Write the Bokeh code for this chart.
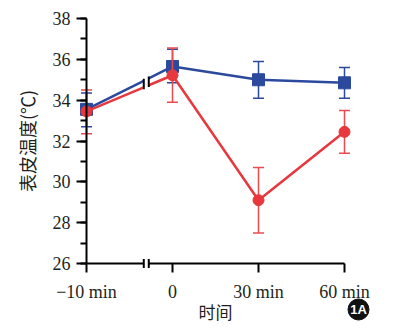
import numpy as np
from bokeh.plotting import figure
from bokeh.models import (Range1d, LinearAxis, FixedTicker, SingleIntervalTicker)
from bokeh.core.properties import value
from bokeh.embed import file_html
from bokeh.resources import INLINE

# ---------------- data ----------------
categories = ["\u221210 min", "0", "30 min", "60 min"]
blue_mean = [33.55, 35.65, 35.0, 34.85]
blue_upper = [34.35, 36.5, 35.9, 35.6]
blue_lower = [32.7, 34.85, 34.1, 34.1]
red_mean = [33.45, 35.22, 29.1, 32.45]
red_upper = [34.5, 36.55, 30.7, 33.5]
red_lower = [32.35, 33.9, 27.5, 31.4]
y_min, y_max = 26, 38
x_label = "时间"
y_label = "表皮温度(℃)"
badge = "1A"

# ---------------- layout constants ----------------
W, H = 394, 331
x0_px, x3_px = 86, 344
ppx = (x3_px - x0_px) / 3.0
ylo_px, yhi_px = 263, 18
ppy = (ylo_px - yhi_px) / float(y_max - y_min)

BLUE = "#2b4a9e"
RED = "#e8383d"
RED_ERR = "#eb4a4f"
SERIF = "Liberation Serif"
CJK = "Noto Sans CJK SC"
TXT = "#231f20"

xs = np.arange(len(categories), dtype=float)
xb1, xb2 = 0.666, 0.724  # axis break positions (between first and second category)

x_start = -x0_px / ppx
x_end = (W - x0_px) / ppx
y_end = y_max + yhi_px / ppy
y_start = y_min - (H - ylo_px) / ppy

p = figure(width=W, height=H, x_range=Range1d(x_start, x_end),
           y_range=Range1d(y_start, y_end), output_backend="svg",
           toolbar_location=None, x_axis_location=None, y_axis_location=None,
           min_border=0)
p.outline_line_color = None
p.grid.visible = False
p.background_fill_color = "white"

# ---------------- axes ----------------
yaxis = LinearAxis(fixed_location=0, bounds=(y_min, y_max),
                   ticker=SingleIntervalTicker(interval=2, num_minor_ticks=2),
                   axis_label=y_label)
yaxis.axis_line_width = 2
yaxis.major_tick_line_width = 2
yaxis.minor_tick_line_width = 2
yaxis.major_tick_out = 10
yaxis.major_tick_in = 0
yaxis.minor_tick_out = 6
yaxis.minor_tick_in = 0
yaxis.major_label_text_font = SERIF
yaxis.major_label_text_font_size = "18px"
yaxis.major_label_text_color = TXT
yaxis.major_label_standoff = 6
yaxis.axis_label_text_font = CJK
yaxis.axis_label_text_font_size = "18px"
yaxis.axis_label_text_font_style = "normal"
yaxis.axis_label_text_color = TXT
yaxis.axis_label_standoff = 10
p.add_layout(yaxis, "left")

overrides = {i: c for i, c in enumerate(categories)}

def make_xaxis(bounds, ticks):
    ax = LinearAxis(fixed_location=y_min, bounds=bounds,
                    ticker=FixedTicker(ticks=ticks, minor_ticks=[]),
                    major_label_overrides={t: overrides[t] for t in ticks})
    ax.axis_line_width = 2
    ax.major_tick_line_width = 2
    ax.major_tick_out = 9
    ax.major_tick_in = 0
    ax.major_label_text_font = SERIF
    ax.major_label_text_font_size = "18px"
    ax.major_label_text_color = TXT
    ax.major_label_standoff = 9
    return ax

p.add_layout(make_xaxis((0, xb1), [0]), "below")
p.add_layout(make_xaxis((xb2, len(categories) - 1), [1, 2, 3]), "below")

lab_ax = LinearAxis(fixed_location=y_min, bounds=(0, len(categories) - 1),
                    ticker=FixedTicker(ticks=[], minor_ticks=[]),
                    axis_label=x_label)
lab_ax.axis_line_color = None
lab_ax.major_tick_line_color = None
lab_ax.major_label_text_font_size = "0px"
lab_ax.axis_label_text_font = CJK
lab_ax.axis_label_text_font_size = "17px"
lab_ax.axis_label_text_font_style = "normal"
lab_ax.axis_label_text_color = TXT
lab_ax.axis_label_standoff = 35
p.add_layout(lab_ax, "below")

# axis break ticks
p.segment(x0=[xb1, xb2], y0=[y_min - 0.22] * 2, x1=[xb1, xb2], y1=[y_min + 0.22] * 2,
          line_color="black", line_width=2)

# ---------------- series ----------------
def draw_series(mean, upper, lower, color, err_color, marker, size):
    p.segment(x0=xs, y0=lower, x1=xs, y1=upper, line_color=err_color, line_width=1.5)
    p.scatter(xs, upper, marker="dash", size=11, line_color=err_color, line_width=1.5)
    p.scatter(xs, lower, marker="dash", size=11, line_color=err_color, line_width=1.5)
    yb1 = float(np.interp(xb1, xs, mean))
    yb2 = float(np.interp(xb2, xs, mean))
    p.line([xs[0], xb1], [mean[0], yb1], line_color=color, line_width=2.5)
    p.line([xb2] + list(xs[1:]), [yb2] + list(mean[1:]), line_color=color, line_width=2.5)
    p.scatter(xs, mean, marker=marker, size=size, fill_color=color, line_color=color)

draw_series(blue_mean, blue_upper, blue_lower, BLUE, BLUE, "square", 12)
draw_series(red_mean, red_upper, red_lower, RED, RED_ERR, "circle", 11)

# break marks across the data lines
mid1 = (np.interp(xb1, xs, blue_mean) + np.interp(xb1, xs, red_mean)) / 2
mid2 = (np.interp(xb2, xs, blue_mean) + np.interp(xb2, xs, red_mean)) / 2
p.segment(x0=[xb1, xb2], y0=[mid1 - 0.26, mid2 - 0.26], x1=[xb1, xb2],
          y1=[mid1 + 0.26, mid2 + 0.26], line_color="black", line_width=2)

# badge
bx = (358 - x0_px) / ppx
by = y_min - (309 - ylo_px) / ppy
p.scatter([bx], [by], marker="circle", size=21, fill_color="#111111", line_color="#111111")
p.text([bx], [by], text=[badge], text_align="center", text_baseline="middle",
       text_color="white", text_font=value("Liberation Sans"), text_font_style="bold",
       text_font_size="13px")

open("out.html", "w").write(file_html(p, INLINE))
